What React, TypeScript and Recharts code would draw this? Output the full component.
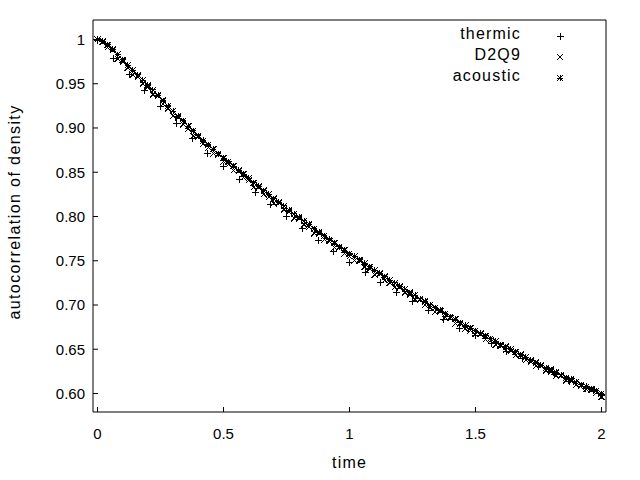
import React from 'react';
import { ScatterChart, Scatter, XAxis, YAxis, Legend } from 'recharts';

// sample times of the dense runs (D2Q9 and acoustic)
const fineTimes = [
  0, 0.02, 0.04, 0.06, 0.08, 0.1, 0.12, 0.14, 0.16, 0.18,
  0.2, 0.22, 0.24, 0.26, 0.28, 0.3, 0.32, 0.34, 0.36, 0.38,
  0.4, 0.42, 0.44, 0.46, 0.48, 0.5, 0.52, 0.54, 0.56, 0.58,
  0.6, 0.62, 0.64, 0.66, 0.68, 0.7, 0.72, 0.74, 0.76, 0.78,
  0.8, 0.82, 0.84, 0.86, 0.88, 0.9, 0.92, 0.94, 0.96, 0.98,
  1, 1.02, 1.04, 1.06, 1.08, 1.1, 1.12, 1.14, 1.16, 1.18,
  1.2, 1.22, 1.24, 1.26, 1.28, 1.3, 1.32, 1.34, 1.36, 1.38,
  1.4, 1.42, 1.44, 1.46, 1.48, 1.5, 1.52, 1.54, 1.56, 1.58,
  1.6, 1.62, 1.64, 1.66, 1.68, 1.7, 1.72, 1.74, 1.76, 1.78,
  1.8, 1.82, 1.84, 1.86, 1.88, 1.9, 1.92, 1.94, 1.96, 1.98,
  2,
];

const acousticValues = [
  1.0, 0.998, 0.994, 0.989, 0.983, 0.977, 0.971, 0.965, 0.96, 0.954,
  0.948, 0.943, 0.937, 0.931, 0.925, 0.919, 0.913, 0.908, 0.902, 0.897,
  0.891, 0.886, 0.881, 0.876, 0.871, 0.866, 0.862, 0.857, 0.852, 0.848,
  0.843, 0.838, 0.834, 0.829, 0.825, 0.82, 0.816, 0.812, 0.807, 0.803,
  0.799, 0.795, 0.791, 0.786, 0.782, 0.778, 0.774, 0.77, 0.766, 0.762,
  0.758, 0.755, 0.751, 0.747, 0.743, 0.739, 0.736, 0.732, 0.728, 0.725,
  0.721, 0.718, 0.714, 0.711, 0.707, 0.704, 0.7, 0.697, 0.694, 0.69,
  0.687, 0.684, 0.68, 0.677, 0.674, 0.671, 0.668, 0.665, 0.662, 0.659,
  0.655, 0.653, 0.65, 0.647, 0.644, 0.641, 0.638, 0.635, 0.632, 0.629,
  0.627, 0.624, 0.621, 0.618, 0.616, 0.613, 0.61, 0.608, 0.605, 0.603,
  0.6,
];

const d2q9Values = [
  1.0, 0.997, 0.991, 0.988, 0.978, 0.975, 0.968, 0.96, 0.958, 0.95,
  0.946, 0.938, 0.936, 0.927, 0.922, 0.914, 0.912, 0.904, 0.899, 0.891,
  0.89, 0.882, 0.878, 0.871, 0.87, 0.862, 0.859, 0.852, 0.851, 0.844,
  0.841, 0.833, 0.833, 0.825, 0.822, 0.815, 0.815, 0.808, 0.805, 0.798,
  0.798, 0.791, 0.788, 0.781, 0.781, 0.774, 0.772, 0.765, 0.765, 0.758,
  0.755, 0.75, 0.75, 0.743, 0.741, 0.734, 0.735, 0.728, 0.725, 0.72,
  0.72, 0.714, 0.712, 0.706, 0.706, 0.7, 0.697, 0.692, 0.693, 0.686,
  0.685, 0.679, 0.679, 0.673, 0.671, 0.667, 0.667, 0.661, 0.66, 0.655,
  0.654, 0.649, 0.648, 0.643, 0.643, 0.638, 0.636, 0.631, 0.631, 0.626,
  0.625, 0.62, 0.62, 0.615, 0.614, 0.61, 0.609, 0.605, 0.604, 0.601,
  0.596,
];

const thermicTimes = [
  0, 0.0625, 0.125, 0.1875, 0.25, 0.3125, 0.375, 0.4375, 0.5, 0.5625,
  0.625, 0.6875, 0.75, 0.8125, 0.875, 0.9375, 1, 1.0625, 1.125, 1.1875,
  1.25, 1.3125, 1.375, 1.4375, 1.5, 1.5625, 1.625, 1.6875, 1.75, 1.8125,
  1.875, 1.9375, 2,
];

const thermicValues = [
  0.999, 0.978, 0.96, 0.942, 0.924, 0.905, 0.888, 0.871, 0.856, 0.842,
  0.827, 0.813, 0.8, 0.786, 0.773, 0.76, 0.748, 0.737, 0.725, 0.714,
  0.704, 0.694, 0.684, 0.674, 0.666, 0.657, 0.648, 0.639, 0.63, 0.622,
  0.614, 0.606, 0.598,
];

const xTicks = [0, 0.5, 1, 1.5, 2];
const yTicks = [0.6, 0.65, 0.7, 0.75, 0.8, 0.85, 0.9, 0.95, 1];

const seriesNames = ['thermic', 'D2Q9', 'acoustic'];
const seriesKinds = ['plus', 'cross', 'star'];

const FONT = '"Liberation Sans", Arial, sans-serif';

const toPoints = (times: number[], values: number[]) =>
  times.map((t, i) => ({ t, v: values[i] }));

const thermicData = toPoints(thermicTimes, thermicValues);
const d2q9Data = toPoints(fineTimes, d2q9Values);
const acousticData = toPoints(fineTimes, acousticValues);

// gnuplot point types 1, 2 and 3
const Mark = ({ cx, cy, kind }: { cx: number; cy: number; kind: string }) => {
  if (cx == null || cy == null) return null;
  const r = kind === 'plus' ? 3.5 : 3;
  let d = '';
  if (kind !== 'cross') d += `M${cx - r},${cy}H${cx + r}M${cx},${cy - r}V${cy + r}`;
  if (kind !== 'plus')
    d += `M${cx - r},${cy - r}L${cx + r},${cy + r}M${cx - r},${cy + r}L${cx + r},${cy - r}`;
  return <path d={d} stroke="#000" strokeWidth={1} fill="none" shapeRendering="crispEdges" />;
};

const LegendBox = () => (
  <svg width={640} height={100} style={{ display: 'block' }}>
    {seriesNames.map((name, i) => (
      <g key={name}>
        <text
          x={521}
          y={39 + i * 21}
          textAnchor="end"
          fontFamily={FONT}
          fontSize={16}
          letterSpacing={1.2}
          fill="#000"
        >
          {name}
        </text>
        <Mark cx={560} cy={36 + i * 21} kind={seriesKinds[i]} />
      </g>
    ))}
  </svg>
);

const XTitle = (props: any) => {
  const { x, y, width } = props.viewBox;
  return (
    <text x={x + width / 2} y={y + 56} textAnchor="middle" fontFamily={FONT} fontSize={16} letterSpacing={1.2} fill="#000">
      time
    </text>
  );
};

const YTitle = (props: any) => {
  const { y, height } = props.viewBox;
  const cx = 20;
  const cy = y + height / 2 - 4;
  return (
    <text
      x={cx}
      y={cy}
      transform={`rotate(-90 ${cx} ${cy})`}
      textAnchor="middle"
      fontFamily={FONT}
      fontSize={16}
      letterSpacing={1.4}
      fill="#000"
    >
      autocorrelation of density
    </text>
  );
};

const tickStyle = { fill: '#000', fontSize: 15, fontFamily: FONT };

const App = () => {
  return (
    <div style={{ position: 'absolute', left: 0, top: 0, width: 640, height: 480, background: '#fff' }}>
      <ScatterChart width={640} height={480} margin={{ top: 19, right: 33, bottom: 0, left: 0 }}>
        <XAxis
          type="number"
          dataKey="t"
          domain={[-0.018, 2.018]}
          ticks={xTicks}
          allowDataOverflow
          height={68}
          tickSize={-5}
          tickMargin={21}
          tick={tickStyle}
          axisLine={{ stroke: '#000' }}
          tickLine={{ stroke: '#000' }}
          label={<XTitle />}
        />
        <XAxis
          xAxisId="top"
          orientation="top"
          type="number"
          dataKey="t"
          domain={[-0.018, 2.018]}
          ticks={xTicks}
          allowDataOverflow
          height={1}
          tickSize={-5}
          tick={false}
          axisLine={{ stroke: '#000' }}
          tickLine={{ stroke: '#000' }}
        />
        <YAxis
          type="number"
          dataKey="v"
          domain={[0.5791, 1.022]}
          ticks={yTicks}
          allowDataOverflow
          width={93}
          tickSize={-5}
          tickMargin={13}
          tick={tickStyle}
          tickFormatter={(v: number) => (v === 1 ? '1' : v.toFixed(2))}
          axisLine={{ stroke: '#000' }}
          tickLine={{ stroke: '#000' }}
          label={<YTitle />}
        />
        <YAxis
          yAxisId="right"
          orientation="right"
          type="number"
          dataKey="v"
          domain={[0.5791, 1.022]}
          ticks={yTicks}
          allowDataOverflow
          width={1}
          tickSize={-5}
          tick={false}
          axisLine={{ stroke: '#000' }}
          tickLine={{ stroke: '#000' }}
        />
        <Legend
          layout="vertical"
          align="center"
          verticalAlign="middle"
          content={<LegendBox />}
          wrapperStyle={{ position: 'absolute', left: 0, top: 0, width: 640, height: 100 }}
        />
        <Scatter
          name={seriesNames[0]}
          data={thermicData}
          isAnimationActive={false}
          shape={(p: any) => <Mark cx={p.cx} cy={p.cy} kind="plus" />}
        />
        <Scatter
          name={seriesNames[1]}
          data={d2q9Data}
          isAnimationActive={false}
          shape={(p: any) => <Mark cx={p.cx} cy={p.cy} kind="cross" />}
        />
        <Scatter
          name={seriesNames[2]}
          data={acousticData}
          isAnimationActive={false}
          shape={(p: any) => <Mark cx={p.cx} cy={p.cy} kind="star" />}
        />
      </ScatterChart>
    </div>
  );
};

export default App;
